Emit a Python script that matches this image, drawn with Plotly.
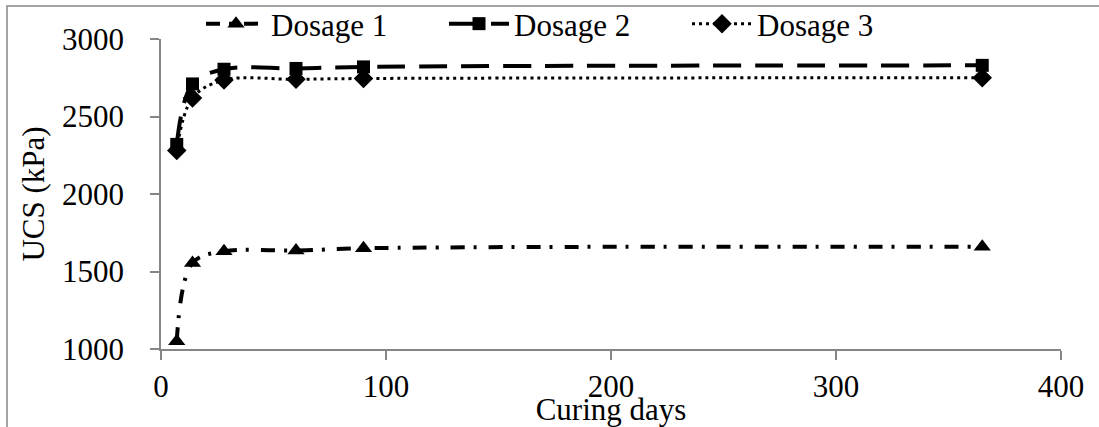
import plotly.graph_objects as go

days = [7, 14, 28, 60, 90, 365]
dosage1 = [1050, 1555, 1630, 1635, 1650, 1660]
dosage2 = [2320, 2710, 2805, 2810, 2820, 2830]
dosage3 = [2280, 2620, 2735, 2740, 2745, 2750]

series_names = ["Dosage 1", "Dosage 2", "Dosage 3"]
x_ticks = [0, 100, 200, 300, 400]
y_ticks = [1000, 1500, 2000, 2500, 3000]

FONT = "Liberation Serif, Times New Roman, serif"
GRAY = "#868686"
FS = 31

fig = go.Figure()
fig.add_trace(go.Scatter(
    x=days, y=dosage1, name=series_names[0], mode="lines+markers",
    line=dict(color="black", width=4, dash="14px,9px,3px,12px", shape="spline", smoothing=1),
    marker=dict(symbol="triangle-up", size=15, color="black"), cliponaxis=False))
fig.add_trace(go.Scatter(
    x=days, y=dosage2, name=series_names[1], mode="lines+markers",
    line=dict(color="black", width=4, dash="28px,14px", shape="spline", smoothing=1),
    marker=dict(symbol="square", size=13, color="black"), cliponaxis=False))
fig.add_trace(go.Scatter(
    x=days, y=dosage3, name=series_names[2], mode="lines+markers",
    line=dict(color="black", width=3, dash="3px,4px", shape="spline", smoothing=1),
    marker=dict(symbol="diamond", size=15, color="black"), cliponaxis=False))

fig.update_layout(
    width=1099, height=427,
    margin=dict(l=161, r=38, t=39, b=78, autoexpand=False),
    paper_bgcolor="white", plot_bgcolor="white",
    font=dict(family=FONT, size=FS, color="black"),
    showlegend=True,
    legend=dict(orientation="h", xref="container", x=201 / 1099, xanchor="left",
                yref="container", y=1 - 24 / 427, yanchor="middle",
                itemwidth=60, entrywidth=168, bgcolor="rgba(0,0,0,0)",
                font=dict(family=FONT, size=FS, color="black")),
    xaxis=dict(range=[0, 400], tickvals=x_ticks, showgrid=False, zeroline=False,
               showline=True, linecolor=GRAY, linewidth=1.5, automargin=False,
               ticks="outside", ticklen=9, tickcolor=GRAY, tickwidth=1.5,
               ticklabelstandoff=0,
               title=dict(text="Curing days", standoff=17, font=dict(size=FS))),
    yaxis=dict(range=[1000, 3000], tickvals=y_ticks, showgrid=False, zeroline=False,
               showline=True, linecolor=GRAY, linewidth=1.5, automargin=False,
               ticks="outside", ticklen=9, tickcolor=GRAY, tickwidth=1.5,
               ticklabelstandoff=20,
               title=dict(text="UCS (kPa)", standoff=8, font=dict(size=FS))),
    shapes=[dict(type="rect", xref="paper", yref="paper",
                 x0=(7 - 161) / 900, x1=1.3, y0=-0.6, y1=1 + (39 - 6) / 310,
                 line=dict(color=GRAY, width=1.5), fillcolor="rgba(0,0,0,0)", layer="below")],
)

fig.write_html("out.html")
